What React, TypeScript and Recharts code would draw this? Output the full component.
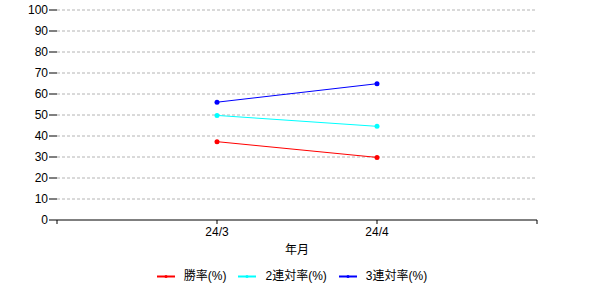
import React from 'react';
import { LineChart, Line, XAxis, YAxis, CartesianGrid } from 'recharts';

const categories = ['24/3', '24/4'];
const winRate = [37.3, 29.8];
const top2Rate = [49.8, 44.6];
const top3Rate = [56.1, 64.9];
const yTicks = [0, 10, 20, 30, 40, 50, 60, 70, 80, 90, 100];

const series = [
  { key: 'win', name: '勝率(%)', color: '#ff0000', values: winRate },
  { key: 'top2', name: '2連対率(%)', color: '#00ffff', values: top2Rate },
  { key: 'top3', name: '3連対率(%)', color: '#0000ff', values: top3Rate },
];

const data = categories.map((c, i) => ({
  x: i + 1,
  label: c,
  win: winRate[i],
  top2: top2Rate[i],
  top3: top3Rate[i],
}));

const font = '"Liberation Sans", Arial, "Noto Sans CJK JP", sans-serif';

const xTickFormatter = (v: number) => {
  const idx = v - 1;
  return idx >= 0 && idx < categories.length ? categories[idx] : '';
};

export default function App() {
  return (
    <div style={{ position: 'absolute', left: 0, top: 0, width: 600, height: 300, background: '#fff', fontFamily: font }}>
      <LineChart
        width={600}
        height={300}
        data={data}
        margin={{ top: 10, right: 63, left: 0, bottom: 51 }}
      >
        <CartesianGrid
          vertical={false}
          stroke="#b4b4b4"
          strokeDasharray="3 2"
          horizontalValues={[10, 20, 30, 40, 50, 60, 70, 80, 90, 100]}
        />
        <XAxis
          dataKey="x"
          type="number"
          domain={[0, 3]}
          ticks={[0, 1, 2, 3]}
          tickFormatter={xTickFormatter}
          stroke="#000"
          tickLine={{ stroke: '#000' }}
          tickSize={4}
          tickMargin={3}
          tick={{ fill: '#000', fontSize: 12, fontFamily: font }}
          height={29}
          label={{ value: '年月', position: 'insideBottom', offset: 0, fill: '#000', fontSize: 12, fontFamily: font, dy: 5 }}
        />
        <YAxis
          type="number"
          domain={[0, 100]}
          ticks={yTicks}
          interval={0}
          width={57}
          axisLine={false}
          tickLine={{ stroke: '#000' }}
          tickSize={8}
          tickMargin={1}
          tick={{ fill: '#000', fontSize: 12, fontFamily: font }}
        />
        {series.map((s) => (
          <Line
            key={s.key}
            dataKey={s.key}
            name={s.name}
            stroke={s.color}
            strokeWidth={1}
            dot={{ r: 2.5, fill: s.color, stroke: s.color, strokeWidth: 0 }}
            activeDot={false}
            isAnimationActive={false}
          />
        ))}
      </LineChart>
      <div
        style={{
          position: 'absolute',
          left: 0,
          top: 268,
          width: 600,
          display: 'flex',
          justifyContent: 'center',
          fontSize: 12,
          fontFamily: font,
          color: '#000',
          lineHeight: '16px',
        }}
      >
        <div style={{ display: 'flex', marginLeft: -4 }}>
          {series.map((s) => (
            <div key={s.key} style={{ display: 'flex', alignItems: 'center', marginRight: 12 }}>
              <svg width={18} height={16} style={{ marginRight: 9 }}>
                <line x1={0} y1={8.5} x2={18} y2={8.5} stroke={s.color} strokeWidth={2} />
                <circle cx={9} cy={8.5} r={1.5} fill={s.color} />
              </svg>
              <span>{s.name}</span>
            </div>
          ))}
        </div>
      </div>
    </div>
  );
}
